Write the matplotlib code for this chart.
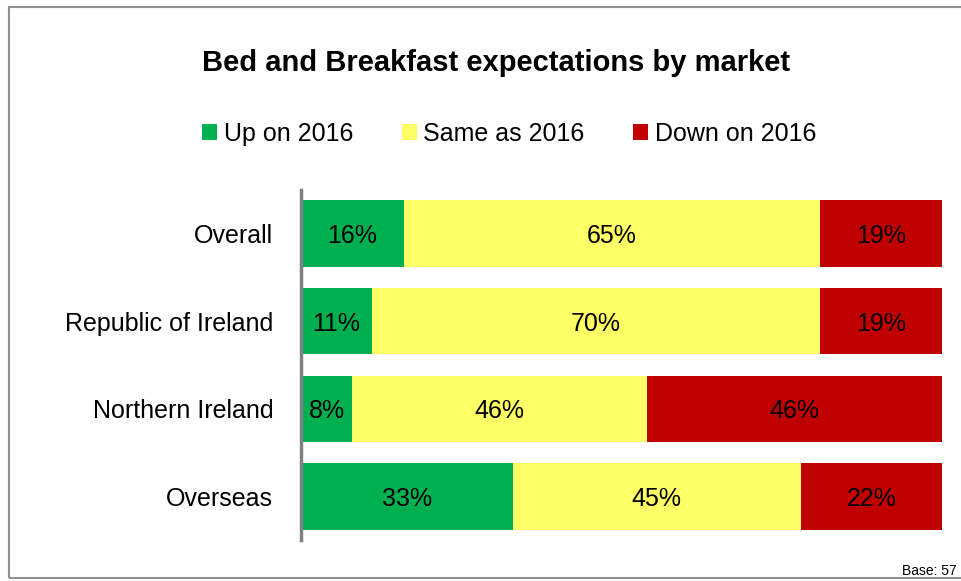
import matplotlib.pyplot as plt
from matplotlib.patches import Patch, Rectangle

plt.rcParams['font.family'] = ['Liberation Sans', 'DejaVu Sans']

markets = ["Overall", "Republic of Ireland", "Northern Ireland", "Overseas"]
up = [16, 11, 8, 33]
same = [65, 70, 46, 45]
down = [19, 19, 46, 22]
series_names = ["Up on 2016", "Same as 2016", "Down on 2016"]
colors = ["#00B050", "#FFFF66", "#C00000"]

fig = plt.figure(figsize=(9.61, 5.81), dpi=100)
ax = fig.add_axes([301 / 961, 41 / 581, 641 / 961, 350 / 581])

ypos = list(range(len(markets)))
left = [0] * len(markets)
for vals, col in zip([up, same, down], colors):
    bars = ax.barh(ypos, vals, left=left, height=0.76, color=col, edgecolor="none")
    for b, v in zip(bars, vals):
        ax.text(b.get_x() + b.get_width() / 2, b.get_y() + b.get_height() / 2,
                f"{v}%", ha="center", va="center_baseline", fontsize=18, color="black")
    left = [l + v for l, v in zip(left, vals)]

ax.set_xlim(0, 100)
ax.set_ylim(len(markets) - 0.5, -0.5)
ax.set_yticks(ypos)
ax.set_yticklabels(markets, fontsize=18)
for lab in ax.get_yticklabels():
    lab.set_va("center_baseline")
ax.tick_params(axis="y", length=0, pad=20)
ax.set_xticks([])
for s in ["top", "right", "bottom"]:
    ax.spines[s].set_visible(False)
ax.spines["left"].set_color("#808080")
ax.spines["left"].set_linewidth(2.5)

fig.text(496 / 961, 1 - 63 / 581, "Bed and Breakfast expectations by market",
         ha="center", va="center", fontsize=21, fontweight="bold")

handles = [Patch(facecolor=c, edgecolor="none") for c in colors]
fig.legend(handles, series_names, loc="center", bbox_to_anchor=(509 / 961, 1 - 134 / 581),
           ncol=3, frameon=False, fontsize=18, handlelength=0.6, handleheight=0.6,
           handletextpad=0.26, columnspacing=1.95)

fig.text(957 / 961, 1 - 571 / 581, "Base: 57", ha="right", va="center", fontsize=10)

fig.patches.append(Rectangle((9 / 961, 3 / 581), 1.0, 1 - 10 / 581,
                             transform=fig.transFigure, fill=False,
                             edgecolor="#909090", linewidth=1.5))

fig.savefig("out.png", dpi=100)
